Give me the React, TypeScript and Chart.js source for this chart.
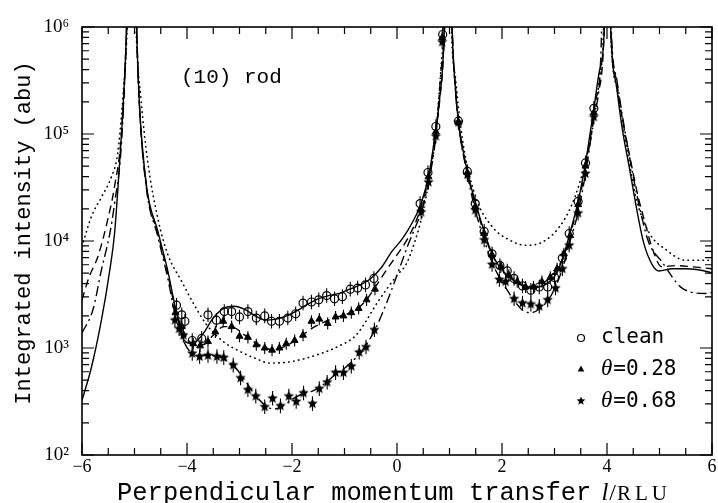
import React, { useEffect, useRef } from 'react';
import { Chart, registerables } from 'chart.js';

Chart.register(...registerables);

type P = [number, number];

// ---- model curves (x = l in RLU, y = integrated intensity) ----
const solidFit: P[] = [
  [-6.0, 324], [-5.82, 661], [-5.63, 1820], [-5.47, 5370], [-5.38, 11750], [-5.28, 57540], [-5.21, 208900],
  [-5.15, 1e6], [-5.05, 1e8], [-4.96, 1e6], [-4.91, 208900], [-4.77, 32360], [-4.56, 12590], [-4.37, 5370],
  [-4.24, 2630], [-4.14, 1585], [-4.05, 1175], [-3.9, 1096], [-3.7, 1349], [-3.5, 1905], [-3.3, 2344],
  [-3.1, 2455], [-2.9, 2291], [-2.7, 1995], [-2.5, 1820], [-2.3, 1862], [-2.1, 1995], [-1.9, 2239],
  [-1.7, 2570], [-1.5, 2884], [-1.3, 3090], [-1.1, 3236], [-0.9, 3548], [-0.7, 3890], [-0.5, 4467],
  [-0.3, 5623], [-0.1, 7943], [0.1, 10470], [0.3, 15140], [0.46, 22390], [0.62, 44670], [0.74, 112200],
  [0.81, 208900], [0.9, 1e6], [0.97, 1e8], [1.05, 1e6], [1.12, 239900], [1.17, 131800], [1.34, 44670],
  [1.5, 22390], [1.66, 12300], [1.81, 7586], [1.95, 5754], [2.1, 4786], [2.25, 4169], [2.4, 3802],
  [2.55, 3631], [2.7, 3715], [2.85, 3981], [3.0, 4677], [3.15, 6761], [3.28, 11220], [3.45, 23440],
  [3.59, 53700], [3.75, 173800], [3.86, 398100], [3.95, 1e6], [4.0, 1e8], [4.07, 1e6], [4.18, 281800],
  [4.29, 112200], [4.42, 50120], [4.58, 18200], [4.7, 9550], [4.86, 6026], [4.99, 5248], [5.24, 5495],
  [5.5, 5495], [5.94, 5129], [6.0, 5012],
];

const dashedFit: P[] = [
  [-6.0, 2818], [-5.86, 4677], [-5.7, 7079], [-5.51, 15850], [-5.38, 32360], [-5.25, 100000], [-5.15, 1e6],
  [-5.05, 1e8], [-4.96, 1e6], [-4.91, 199500], [-4.77, 31620], [-4.56, 12020], [-4.37, 5012], [-4.22, 2291],
  [-4.05, 1380], [-3.9, 1096], [-3.7, 1072], [-3.5, 1318], [-3.3, 1585], [-3.1, 1549], [-2.9, 1318],
  [-2.7, 1122], [-2.5, 1000], [-2.35, 955], [-2.2, 1000], [-2.0, 1122], [-1.8, 1318], [-1.6, 1549],
  [-1.4, 1738], [-1.2, 1905], [-1.0, 2042], [-0.8, 2239], [-0.6, 2754], [-0.4, 3802], [-0.2, 5370],
  [0.0, 7413], [0.2, 10470], [0.35, 14790], [0.46, 20890], [0.62, 42660], [0.74, 107200], [0.81, 199500],
  [0.9, 1e6], [0.97, 1e8], [1.05, 1e6], [1.12, 239900], [1.17, 128800], [1.34, 43650], [1.5, 21380],
  [1.66, 11750], [1.81, 7413], [1.98, 5623], [2.13, 4786], [2.29, 4169], [2.45, 3802], [2.6, 3715],
  [2.76, 3981], [2.92, 4571], [3.05, 5495], [3.2, 7762], [3.35, 14130], [3.5, 28180], [3.65, 70790],
  [3.8, 223900], [3.95, 1e6], [4.0, 1e8], [4.07, 1e6], [4.18, 316200], [4.29, 141300], [4.45, 56230],
  [4.6, 25120], [4.72, 15140], [4.85, 8913], [5.04, 5754], [5.3, 5888], [5.6, 5754], [6.0, 5495],
];

const dashDotFit: P[] = [
  [-6.0, 1380], [-5.79, 2291], [-5.63, 5370], [-5.47, 11750], [-5.38, 22390], [-5.25, 79430], [-5.15, 1e6],
  [-5.05, 1e8], [-4.96, 1e6], [-4.91, 199500], [-4.77, 30200], [-4.56, 11220], [-4.37, 4571], [-4.22, 1995],
  [-4.05, 1122], [-3.9, 891], [-3.7, 851], [-3.5, 851], [-3.3, 794], [-3.1, 676], [-2.9, 501], [-2.7, 363],
  [-2.5, 288], [-2.35, 269], [-2.2, 282], [-2.0, 331], [-1.8, 372], [-1.6, 398], [-1.4, 457], [-1.2, 550],
  [-1.0, 646], [-0.8, 794], [-0.6, 1047], [-0.4, 1549], [-0.2, 2630], [0.0, 4786], [0.2, 8913],
  [0.35, 13490], [0.46, 18620], [0.6, 35480], [0.74, 95500], [0.84, 398100], [0.91, 1.1e6], [0.97, 1e8],
  [1.05, 1e6], [1.12, 234400], [1.17, 125900], [1.34, 41690], [1.49, 19500], [1.66, 10230], [1.81, 6310],
  [1.95, 4571], [2.1, 3467], [2.25, 2692], [2.4, 2239], [2.55, 2138], [2.7, 2291], [2.85, 2692],
  [3.0, 3548], [3.15, 5495], [3.28, 9333], [3.45, 18620], [3.59, 42660], [3.75, 144500], [3.88, 501200],
  [4.0, 1e8], [4.08, 1e6], [4.19, 316200], [4.3, 141300], [4.5, 39810], [4.65, 17780], [4.8, 9550],
  [5.04, 6457], [5.43, 3631], [5.88, 3236], [6.0, 3311],
];

const dottedModel: P[] = [
  [-6.0, 8913], [-5.82, 16980], [-5.63, 25700], [-5.44, 39810], [-5.32, 66070], [-5.22, 223900],
  [-5.14, 1e6], [-5.05, 1e8], [-4.97, 1e6], [-4.88, 223900], [-4.75, 56230], [-4.55, 15850], [-4.37, 7586],
  [-4.11, 4266], [-3.87, 2570], [-3.63, 1660], [-3.31, 1148], [-3.0, 933], [-2.68, 794], [-2.43, 724],
  [-2.05, 741], [-1.5, 871], [-1.1, 1047], [-0.78, 1318], [-0.34, 2818], [0.0, 4786], [0.17, 6026],
  [0.33, 9550], [0.49, 18200], [0.62, 39810], [0.74, 100000], [0.85, 501200], [0.91, 1.26e6], [0.97, 1e8],
  [1.03, 1.26e6], [1.12, 316200], [1.25, 87100], [1.5, 25700], [1.82, 13490], [2.14, 10230], [2.45, 9120],
  [2.77, 9772], [3.09, 13490], [3.34, 22390], [3.53, 42660], [3.72, 109600], [3.85, 316200],
  [3.94, 1.26e6], [4.0, 1e8], [4.06, 1.26e6], [4.2, 251200], [4.42, 56230], [4.55, 25700], [4.8, 12020],
  [5.12, 8318], [5.5, 6607], [6.0, 6607],
];

// ---- measured points ----
const cleanPts: P[] = [
  [-4.2, 2512], [-4.1, 2042], [-4.04, 1778], [-3.9, 1175], [-3.72, 1230], [-3.6, 2042], [-3.44, 1820],
  [-3.29, 2188], [-3.15, 2188], [-3.0, 1950], [-2.84, 2188], [-2.68, 1905], [-2.52, 1995], [-2.39, 1778],
  [-2.24, 1778], [-2.08, 1905], [-1.93, 2089], [-1.79, 2630], [-1.63, 2692], [-1.49, 2818], [-1.34, 3090],
  [-1.19, 2884], [-1.04, 3020], [-0.89, 3548], [-0.75, 3631], [-0.6, 3890], [-0.44, 4467], [0.44, 22390],
  [0.59, 43650], [0.74, 117500], [0.87, 851100], [1.17, 131800], [1.34, 44670], [1.49, 22390],
  [1.66, 12300], [1.81, 7586], [1.96, 5888], [2.1, 5248], [2.23, 4467], [2.39, 3802], [2.55, 3467],
  [2.71, 3715], [2.87, 3715], [3.0, 4571], [3.15, 6918], [3.28, 11750], [3.45, 23440], [3.59, 53700],
  [3.75, 173800],
];

const theta028Pts: P[] = [
  [-4.22, 2138], [-4.1, 1585], [-3.88, 1096], [-3.75, 1047], [-3.6, 1148], [-3.46, 1413], [-3.31, 1778],
  [-3.15, 1585], [-3.0, 1288], [-2.84, 1259], [-2.68, 1072], [-2.52, 1000], [-2.38, 955], [-2.24, 1000],
  [-2.11, 1096], [-1.95, 1175], [-1.79, 1318], [-1.63, 1778], [-1.48, 1862], [-1.32, 1698], [-1.17, 1950],
  [-1.02, 1995], [-0.87, 2138], [-0.73, 2344], [-0.58, 2818], [-0.42, 3548], [0.45, 19950], [0.6, 39810],
  [0.74, 104700], [0.86, 794300], [1.17, 128800], [1.34, 43650], [1.49, 20890], [1.66, 11750],
  [1.81, 7413], [1.98, 5754], [2.13, 4786], [2.29, 4169], [2.45, 3715], [2.6, 3715], [2.76, 4169],
  [2.92, 4571], [3.05, 5495], [3.18, 7586], [3.3, 11220], [3.45, 21880], [3.59, 50120], [3.75, 158500],
];

const theta068Pts: P[] = [
  [-4.23, 1820], [-4.15, 1514], [-4.07, 1318], [-3.9, 891], [-3.76, 832], [-3.6, 851], [-3.43, 832],
  [-3.3, 813], [-3.12, 692], [-2.98, 525], [-2.84, 407], [-2.69, 355], [-2.52, 282], [-2.37, 339],
  [-2.22, 288], [-2.06, 355], [-1.92, 316], [-1.78, 380], [-1.61, 302], [-1.48, 417], [-1.33, 479],
  [-1.17, 589], [-1.02, 589], [-0.87, 676], [-0.72, 912], [-0.59, 1023], [-0.43, 1479], [0.46, 18620],
  [0.6, 35480], [0.74, 95500], [0.86, 724400], [1.17, 128800], [1.34, 41690], [1.49, 19500],
  [1.66, 10230], [1.81, 6026], [1.95, 4365], [2.07, 4169], [2.23, 2884], [2.39, 2630], [2.55, 2570],
  [2.71, 2455], [2.87, 2818], [3.02, 3631], [3.15, 5495], [3.28, 9120], [3.45, 18200], [3.59, 42660],
  [3.75, 144500],
];

// relative error bar half-size per series
const errClean = 0.17;
const errTheta028 = 0.14;
const errTheta068 = 0.17;

// ---- axes / labels ----
const xTickValues = [-6, -4, -2, 0, 2, 4, 6];
const xTickLabels = ['\u22126', '\u22124', '\u22122', '0', '2', '4', '6'];
const xMinorStep = 0.5;
const yDecades = [100, 1000, 10000, 100000, 1000000];
const yTickLabels = ['10\u00b2', '10\u00b3', '10\u2074', '10\u2075', '10\u2076'];
const yMinorMultiples = [2, 3, 4, 5, 6, 7, 8, 9];

const legendLabels = ['clean', '=0.28', '=0.68'];
const thetaSymbol = '\u03b8';
const rodLabel = '(10) rod';
const xTitle = 'Perpendicular momentum transfer';
const xUnitVar = 'l';
const xUnitSlash = '/';
const xUnit = 'RLU';
const yTitle = 'Integrated intensity (abu)';

const toXY = (pts: P[]) => pts.map(([x, y]) => ({ x, y }));

function drawStarPath(g: CanvasRenderingContext2D, cx: number, cy: number, r: number) {
  g.beginPath();
  for (let i = 0; i < 10; i++) {
    const a = -Math.PI / 2 + (i * Math.PI) / 5;
    const rr = i % 2 === 0 ? r : r * 0.45;
    const px = cx + rr * Math.cos(a);
    const py = cy + rr * Math.sin(a);
    if (i === 0) g.moveTo(px, py);
    else g.lineTo(px, py);
  }
  g.closePath();
}

function makeStar(r: number): HTMLCanvasElement {
  const c = document.createElement('canvas');
  const s = Math.ceil(r * 2 + 2);
  c.width = s;
  c.height = s;
  const g = c.getContext('2d')!;
  drawStarPath(g, s / 2, s / 2, r);
  g.fillStyle = '#000';
  g.fill();
  return c;
}

const errorMap: Record<string, number> = {
  clean: errClean,
  t028: errTheta028,
  t068: errTheta068,
};

const errorBars = {
  id: 'errorBars',
  beforeDatasetsDraw(chart: any) {
    const { ctx, chartArea: a } = chart;
    const ys = chart.scales.y;
    ctx.save();
    ctx.beginPath();
    ctx.rect(a.left, a.top, a.right - a.left, a.bottom - a.top);
    ctx.clip();
    ctx.strokeStyle = '#000';
    ctx.lineWidth = 1.1;
    chart.data.datasets.forEach((ds: any, i: number) => {
      const f = errorMap[ds.label];
      if (!f) return;
      const meta = chart.getDatasetMeta(i);
      meta.data.forEach((pt: any, j: number) => {
        const v = ds.data[j].y;
        const y1 = ys.getPixelForValue(v * (1 + f));
        const y2 = ys.getPixelForValue(v / (1 + f));
        ctx.beginPath();
        ctx.moveTo(pt.x, y1);
        ctx.lineTo(pt.x, y2);
        ctx.stroke();
      });
    });
    ctx.restore();
  },
};

const frameTicks = {
  id: 'frameTicks',
  afterDatasetsDraw(chart: any) {
    const { ctx, chartArea: a, scales } = chart;
    ctx.save();
    ctx.strokeStyle = '#000';
    ctx.lineWidth = 1.2;
    ctx.beginPath();
    for (const t of scales.x.ticks) {
      const px = scales.x.getPixelForValue(t.value);
      const len = xTickValues.includes(t.value) ? 12 : 7;
      ctx.moveTo(px, a.bottom);
      ctx.lineTo(px, a.bottom - len);
      ctx.moveTo(px, a.top);
      ctx.lineTo(px, a.top + len);
    }
    for (const t of scales.y.ticks) {
      const py = scales.y.getPixelForValue(t.value);
      const len = yDecades.includes(t.value) ? 12 : 7;
      ctx.moveTo(a.left, py);
      ctx.lineTo(a.left + len, py);
      ctx.moveTo(a.right, py);
      ctx.lineTo(a.right - len, py);
    }
    ctx.stroke();
    ctx.lineWidth = 1.6;
    ctx.strokeRect(a.left, a.top, a.right - a.left, a.bottom - a.top);
    ctx.restore();
  },
};

const textLayer = {
  id: 'textLayer',
  afterDraw(chart: any) {
    const { ctx, chartArea: a } = chart;
    ctx.save();
    ctx.fillStyle = '#000';
    ctx.strokeStyle = '#000';

    // rod label
    ctx.font = '21px "Liberation Mono", monospace';
    ctx.textAlign = 'left';
    ctx.textBaseline = 'alphabetic';
    ctx.fillText(rodLabel, a.left + 99, a.top + 56);

    // y title
    ctx.save();
    ctx.translate(a.left - 58, (a.top + a.bottom) / 2 - 8);
    ctx.rotate(-Math.PI / 2);
    ctx.font = '22px "Liberation Mono", monospace';
    ctx.textAlign = 'center';
    ctx.textBaseline = 'middle';
    ctx.fillText(yTitle, 0, 0);
    ctx.restore();

    // x title
    const bx = a.left + 35;
    const by = a.bottom + 45;
    ctx.font = '25.5px "Liberation Mono", monospace';
    ctx.fillText(xTitle, bx, by);
    let cx = bx + ctx.measureText(xTitle).width + 10;
    ctx.font = 'italic 25px "Liberation Serif", serif';
    ctx.fillText(xUnitVar, cx, by);
    cx += ctx.measureText(xUnitVar).width + 1;
    ctx.font = '24px "Liberation Serif", serif';
    ctx.fillText(xUnitSlash, cx, by);
    cx += ctx.measureText(xUnitSlash).width + 1;
    ctx.font = '21px "Liberation Serif", serif';
    for (const ch of xUnit) {
      ctx.fillText(ch, cx, by);
      cx += ctx.measureText(ch).width + 4;
    }

    // legend
    const mx = a.right - 131;
    const tx = a.right - 111;
    const rows = [a.bottom - 117, a.bottom - 86, a.bottom - 54];
    ctx.lineWidth = 1.2;
    ctx.beginPath();
    ctx.arc(mx, rows[0], 3.5, 0, Math.PI * 2);
    ctx.stroke();
    ctx.beginPath();
    ctx.moveTo(mx, rows[1] - 3.5);
    ctx.lineTo(mx + 3.3, rows[1] + 2.5);
    ctx.lineTo(mx - 3.3, rows[1] + 2.5);
    ctx.closePath();
    ctx.fill();
    drawStarPath(ctx, mx, rows[2], 4.5);
    ctx.fill();

    ctx.textBaseline = 'alphabetic';
    ctx.font = '21px "DejaVu Sans Mono", monospace';
    ctx.fillText(legendLabels[0], tx, rows[0] + 5);
    for (let k = 1; k < 3; k++) {
      ctx.font = 'italic 23px "Liberation Serif", serif';
      ctx.fillText(thetaSymbol, tx, rows[k] + 6);
      const w = ctx.measureText(thetaSymbol).width;
      ctx.font = '21px "DejaVu Sans Mono", monospace';
      ctx.fillText(legendLabels[k], tx + w + 1, rows[k] + 6);
    }
    ctx.restore();
  },
};

export default function App() {
  const ref = useRef<HTMLCanvasElement | null>(null);

  useEffect(() => {
    const canvas = ref.current;
    if (!canvas) return;
    const star = makeStar(5.5);

    const lineBase = {
      showLine: true,
      fill: false,
      pointRadius: 0,
      pointHoverRadius: 0,
      borderColor: '#000',
      backgroundColor: '#000',
      borderWidth: 1.4,
      cubicInterpolationMode: 'monotone' as const,
    };

    const chart = new Chart(canvas, {
      type: 'scatter',
      data: {
        datasets: [
          {
            label: 'clean',
            data: toXY(cleanPts),
            showLine: false,
            pointStyle: 'circle',
            pointRadius: 4,
            pointBorderWidth: 1.2,
            borderColor: '#000',
            backgroundColor: 'rgba(255,255,255,0)',
            order: 0,
          },
          {
            label: 't028',
            data: toXY(theta028Pts),
            showLine: false,
            pointStyle: 'triangle',
            pointRadius: 4,
            pointBorderWidth: 1,
            borderColor: '#000',
            backgroundColor: '#000',
            order: 0,
          },
          {
            label: 't068',
            data: toXY(theta068Pts),
            showLine: false,
            pointStyle: star as any,
            pointRadius: 5,
            borderColor: '#000',
            backgroundColor: '#000',
            order: 0,
          },
          { label: 'fit clean', data: toXY(solidFit), ...lineBase, order: 1 },
          { label: 'fit 0.28', data: toXY(dashedFit), ...lineBase, borderDash: [8, 5], order: 1 },
          { label: 'fit 0.68', data: toXY(dashDotFit), ...lineBase, borderDash: [10, 4, 2, 4], order: 1 },
          {
            label: 'model',
            data: toXY(dottedModel),
            ...lineBase,
            borderDash: [0.5, 4.5],
            borderCapStyle: 'round' as const,
            borderWidth: 1.6,
            order: 1,
          },
        ],
      },
      options: {
        animation: false,
        responsive: false,
        devicePixelRatio: 1,
        events: [],
        layout: { padding: { top: 27, right: 5, left: 0, bottom: 0 } },
        plugins: {
          legend: { display: false },
          tooltip: { enabled: false },
        },
        scales: {
          x: {
            type: 'linear',
            min: -6,
            max: 6,
            grid: { display: false, drawTicks: false },
            border: { display: false },
            ticks: {
              stepSize: xMinorStep,
              autoSkip: false,
              maxRotation: 0,
              padding: 1,
              color: '#000',
              font: { family: '"Liberation Serif", serif', size: 18 },
              callback: (v: any) => {
                const i = xTickValues.indexOf(Number(v));
                return i >= 0 ? xTickLabels[i] : '';
              },
            },
            afterFit: (s: any) => {
              s.height = 48;
              s.paddingLeft = 0;
              s.paddingRight = 0;
            },
          },
          y: {
            type: 'logarithmic',
            min: yDecades[0],
            max: yDecades[yDecades.length - 1],
            grid: { display: false, drawTicks: false },
            border: { display: false },
            afterBuildTicks: (scale: any) => {
              const ticks: { value: number }[] = [];
              yDecades.forEach((d, i) => {
                ticks.push({ value: d });
                if (i < yDecades.length - 1) yMinorMultiples.forEach((m) => ticks.push({ value: d * m }));
              });
              scale.ticks = ticks;
            },
            ticks: {
              autoSkip: false,
              padding: 13,
              color: '#000',
              font: { family: '"Liberation Serif", "DejaVu Serif", serif', size: 19 },
              callback: (v: any) => {
                const i = yDecades.indexOf(Number(v));
                return i >= 0 ? yTickLabels[i] : '';
              },
            },
            afterFit: (s: any) => {
              s.width = 82;
              s.paddingTop = 0;
              s.paddingBottom = 0;
            },
          },
        },
      },
      plugins: [errorBars, frameTicks, textLayer],
    } as any);

    return () => chart.destroy();
  }, []);

  return (
    <div style={{ position: 'absolute', left: 0, top: 0, width: 718, height: 503, background: '#fff' }}>
      <canvas ref={ref} width={718} height={503} style={{ width: 718, height: 503, display: 'block' }} />
    </div>
  );
}
